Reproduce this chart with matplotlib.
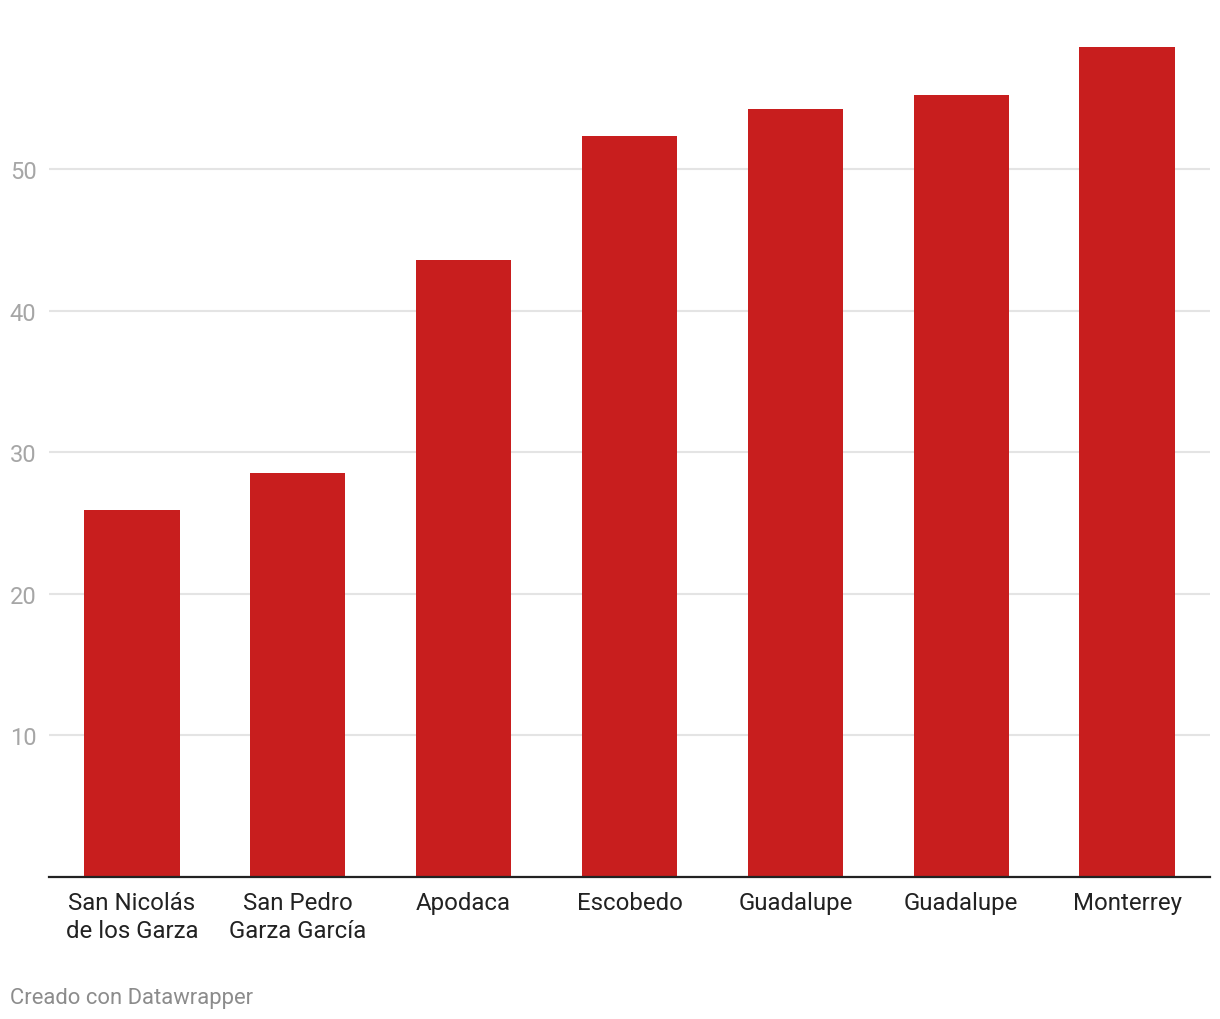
import matplotlib
matplotlib.use("Agg")
import matplotlib.pyplot as plt
import numpy as np

# data
cities = ["San Nicolás\nde los Garza", "San Pedro\nGarza García", "Apodaca",
          "Escobedo", "Guadalupe", "Guadalupe", "Monterrey"]
values = [25.9, 28.5, 43.6, 52.3, 54.2, 55.2, 58.6]
yticks = [10, 20, 30, 40, 50]

bar_col = "#c81e1e"
grid_col = "#e4e4e4"
tick_col = "#a6a6a6"
text_col = "#222222"

plt.rcParams["font.family"] = ["Roboto", "DejaVu Sans"]

fig = plt.figure(figsize=(12.2, 10.2), dpi=100)
fig.set_facecolor("white")
ax = fig.add_axes([49 / 1220, 142 / 1020, 1161 / 1220, 878 / 1020])

x = np.arange(len(cities))
ax.bar(x, values, width=0.575, color=bar_col, zorder=2)

ax.set_xlim(-0.5, len(cities) - 0.5)
ax.set_ylim(0, 62)

ax.set_yticks(yticks)
ax.set_yticklabels([str(t) for t in yticks])
ax.yaxis.grid(True, color=grid_col, linewidth=1.5, zorder=0)
ax.tick_params(axis="y", length=0, pad=9, labelsize=17, labelcolor=tick_col)

ax.set_xticks(x)
ax.set_xticklabels(cities, linespacing=1.27)
ax.tick_params(axis="x", length=0, pad=10, labelsize=17.3, labelcolor=text_col)

for s in ["top", "right", "left"]:
    ax.spines[s].set_visible(False)
ax.spines["bottom"].set_color(text_col)
ax.spines["bottom"].set_linewidth(1.6)
ax.spines["bottom"].set_zorder(3)

fig.text(10 / 1220, 1 - 999 / 1020, "Creado con Datawrapper", fontsize=15.8,
         color="#8c8c8c", ha="left", va="center")

fig.savefig("out.png", dpi=100, facecolor="white")
